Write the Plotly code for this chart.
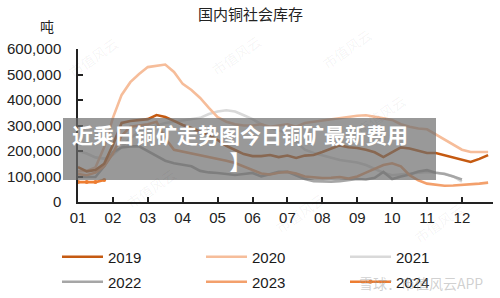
import plotly.graph_objects as go

# ---------------- data (tonnes), weekly points, 4 per month ----------------
years = ["2019", "2020", "2021", "2022", "2023", "2024"]
month_ticks = [1, 5, 9, 13, 17, 21, 25, 29, 33, 37, 41, 45]
month_labels = ["01", "02", "03", "04", "05", "06", "07", "08", "09", "10", "11", "12"]
y_ticks = [0, 100000, 200000, 300000, 400000, 500000, 600000]

weeks_full = list(range(1, 49))
weeks_2122 = list(range(1, 46))
weeks_2024 = [1, 2, 3, 4]

inv_2019 = [137000, 120000, 125000, 150000, 224000, 310000, 318000, 322000, 325000, 341000,
            333000, 318000, 302000, 290000, 278000, 263000, 243000, 220000, 204000, 188000,
            180000, 180000, 184000, 176000, 182000, 173000, 182000, 184000, 196000, 210000,
            222000, 215000, 212000, 205000, 195000, 176000, 196000, 214000, 210000, 200000,
            192000, 192000, 184000, 176000, 165000, 157000, 169000, 184000]
inv_2020 = [120000, 122000, 135000, 215000, 330000, 420000, 470000, 502000, 529000, 533000,
            539000, 510000, 463000, 439000, 408000, 369000, 333000, 315000, 305000, 300000,
            300000, 305000, 295000, 300000, 305000, 295000, 310000, 315000, 320000, 325000,
            330000, 334000, 338000, 340000, 335000, 328000, 322000, 305000, 295000, 288000,
            285000, 265000, 245000, 225000, 205000, 196000, 195000, 196000]
inv_2021 = [200000, 190000, 175000, 170000, 185000, 215000, 250000, 275000, 290000, 300000,
            310000, 315000, 320000, 325000, 330000, 345000, 355000, 360000, 355000, 340000,
            325000, 305000, 290000, 280000, 272000, 235000, 205000, 192000, 184000, 175000,
            165000, 160000, 155000, 145000, 130000, 115000, 105000, 108000, 112000, 115000,
            118000, 115000, 112000, 100000, 80000]
inv_2022 = [98000, 98000, 98000, 140000, 195000, 214000, 218000, 218000, 200000, 180000,
            162000, 152000, 145000, 140000, 122000, 116000, 114000, 110000, 106000, 110000,
            114000, 100000, 110000, 118000, 118000, 105000, 90000, 82000, 80000, 80000,
            82000, 85000, 90000, 88000, 95000, 118000, 90000, 100000, 108000, 120000,
            125000, 115000, 110000, 100000, 88000]
inv_2023 = [110000, 105000, 115000, 140000, 190000, 260000, 295000, 300000, 305000, 315000,
            250000, 205000, 198000, 192000, 185000, 176000, 170000, 162000, 153000, 140000,
            125000, 112000, 108000, 115000, 118000, 112000, 100000, 96000, 94000, 95000,
            98000, 92000, 100000, 115000, 130000, 145000, 152000, 140000, 105000, 85000,
            72000, 67000, 64000, 65000, 67000, 70000, 72000, 76000]
inv_2024 = [78000, 78000, 78000, 86000]

colors = {"2019": "#c55a11", "2020": "#f6bd9a", "2021": "#d9d9d9",
          "2022": "#a6a6a6", "2023": "#f3a06c", "2024": "#ed7d31"}

series = {
    "2019": (weeks_full, inv_2019),
    "2020": (weeks_full, inv_2020),
    "2021": (weeks_2122, inv_2021),
    "2022": (weeks_2122, inv_2022),
    "2023": (weeks_full, inv_2023),
    "2024": (weeks_2024, inv_2024),
}

fig = go.Figure()
draw_order = ["2021", "2022", "2020", "2023", "2024", "2019"]
for yr in draw_order:
    xs, ys = series[yr]
    rank = years.index(yr) + 1
    fig.add_trace(go.Scatter(
        x=xs, y=ys, name=yr,
        mode="lines+markers" if yr == "2024" else "lines",
        line=dict(color=colors[yr], width=2.6),
        marker=dict(size=4, color=colors[yr]),
        legend="legend" if rank <= 3 else "legend2",
        legendrank=rank,
        hoverinfo="skip",
    ))

W, H = 500, 298
L, R, T, B = 78, 7, 49, 96
pw = W - L - R
ph = H - T - B

def px_x(p):
    return (p - L) / pw

def px_y(p):
    return (H - B - p) / ph

num_font = "Liberation Sans, Arial, sans-serif"
cjk_font = "Noto Sans CJK SC, sans-serif"

leg_common = dict(orientation="h", xanchor="left", yanchor="middle",
                  x=px_x(57), entrywidth=88, entrywidthmode="pixels",
                  itemwidth=41, font=dict(family=num_font, size=15, color="#1a1a1a"),
                  bgcolor="rgba(0,0,0,0)", traceorder="normal", itemclick=False)

fig.update_layout(
    width=W, height=H,
    margin=dict(l=L, r=R, t=T, b=B, autoexpand=False),
    paper_bgcolor="white", plot_bgcolor="white",
    showlegend=True,
    legend=dict(**leg_common, y=px_y(257)),
    legend2=dict(**leg_common, y=px_y(282)),
    xaxis=dict(range=[1, 48.56], tickvals=month_ticks, ticktext=month_labels,
               showgrid=False, zeroline=False, showline=True, linecolor="#222",
               linewidth=1.5, ticks="inside", ticklen=5, tickwidth=1.5, tickcolor="#222",
               tickfont=dict(family=num_font, size=15, color="#222"),
               ticklabelstandoff=1, fixedrange=True),
    yaxis=dict(range=[0, 600000], tickvals=y_ticks, tickformat=",",
               showgrid=False, zeroline=False, showline=True, linecolor="#222",
               linewidth=1.5, ticks="inside", ticklen=5, tickwidth=1.5, tickcolor="#222",
               tickfont=dict(family=num_font, size=15, color="#222"),
               ticklabelstandoff=12, fixedrange=True),
)

# faint watermarks
for (wx, wy) in [(62, 30), (205, 28), (378, 22), (412, 88), (120, 215), (300, 240), (470, 250)]:
    fig.add_annotation(text="市值风云", x=px_x(wx), y=px_y(wy), xref="paper", yref="paper",
                       showarrow=False, textangle=-35,
                       font=dict(family=cjk_font, size=14, color="rgba(0,0,0,0.05)"))

# title and unit
fig.add_annotation(text="国内铜社会库存", x=px_x(250), y=px_y(14), xref="paper", yref="paper",
                   showarrow=False, xanchor="center", yanchor="middle",
                   font=dict(family=cjk_font, size=15, color="#222"))
fig.add_annotation(text="吨", x=px_x(47), y=px_y(26), xref="paper", yref="paper",
                   showarrow=False, xanchor="center", yanchor="middle",
                   font=dict(family=cjk_font, size=14, color="#222"))

# bottom-right source watermark
fig.add_annotation(text="雪球：市值风云APP", x=px_x(357), y=px_y(283), xref="paper", yref="paper",
                   showarrow=False, xanchor="left", yanchor="middle",
                   font=dict(family=cjk_font, size=14, color="rgba(150,150,150,0.45)"))

# grey overlay band with headline text
fig.add_shape(type="rect", xref="paper", yref="paper",
              x0=px_x(63), x1=px_x(436), y0=px_y(180), y1=px_y(118),
              fillcolor="rgba(110,110,110,0.7)", line=dict(width=0), layer="above")
fig.add_annotation(text="<b>近乘日铜矿走势图今日铜矿最新费用</b><br><b>】</b>",
                   x=px_x(240), y=px_y(147), xref="paper", yref="paper",
                   showarrow=False, xanchor="center", yanchor="middle", align="center",
                   font=dict(family=cjk_font, size=21, color="white"))

fig.write_html("out.html")
